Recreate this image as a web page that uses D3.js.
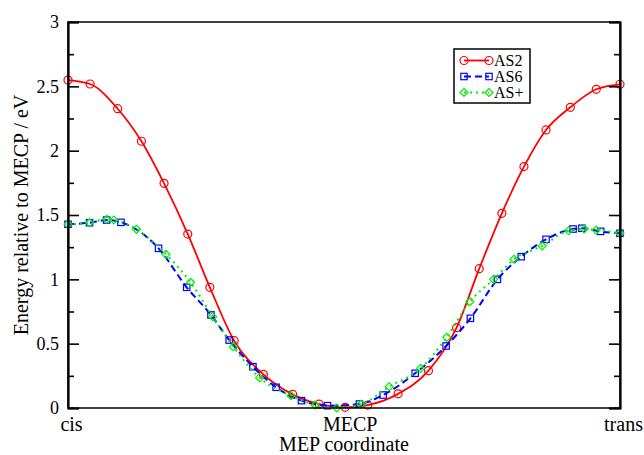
<!DOCTYPE html>
<html>
<head>
<meta charset="utf-8">
<script src="https://cdn.jsdelivr.net/npm/d3@7"></script>
<style>
  body { margin: 0; background: #fff; }
  svg { display: block; font-family: "Liberation Serif", "DejaVu Serif", serif; }
</style>
</head>
<body>
<script>

// MEP coordinate, cis = 0, trans = 100
let as2X = [0, 4.0, 9.0, 13.3, 17.4, 21.7, 25.7, 30.1, 35.4, 40.7, 45.5, 50.2, 54.3, 59.8, 65.3, 70.4, 74.5, 78.6, 82.6, 86.6, 91.0, 95.7, 100]
let as2Y = [2.549, 2.518, 2.326, 2.073, 1.746, 1.352, 0.938, 0.523, 0.262, 0.106, 0.03, 0.005, 0.023, 0.11, 0.29, 0.624, 1.083, 1.513, 1.876, 2.161, 2.337, 2.477, 2.516]

let as6X = [0, 3.9, 7.0, 9.6, 16.4, 21.5, 25.9, 29.2, 33.5, 37.7, 42.3, 47.0, 52.8, 57.1, 62.9, 68.5, 72.9, 77.8, 82.1, 86.6, 91.5, 93.1, 96.5, 100]
let as6Y = [1.428, 1.44, 1.461, 1.443, 1.241, 0.938, 0.723, 0.528, 0.321, 0.161, 0.057, 0.018, 0.031, 0.101, 0.27, 0.482, 0.697, 1.0, 1.176, 1.311, 1.391, 1.397, 1.373, 1.358]

let asPlusX = [0, 3.9, 7.0, 8.3, 12.4, 17.75, 22.2, 26.2, 29.95, 34.7, 40.4, 44.75, 48.7, 53.1, 58.2, 63.9, 68.6, 72.8, 77.1, 80.8, 85.9, 90.7, 93.5, 95.7, 100]
let asPlusY = [1.428, 1.44, 1.467, 1.461, 1.389, 1.194, 0.977, 0.71, 0.477, 0.236, 0.096, 0.023, 0.0, 0.029, 0.166, 0.308, 0.549, 0.826, 1.0, 1.156, 1.259, 1.378, 1.391, 1.383, 1.358]

let xTickValues = [0, 50.5, 100]
let xTickLabels = ['cis', 'MECP', 'trans']
let yMajorTicks = [0, 0.5, 1, 1.5, 2, 2.5, 3]
let yMinorTicks = [0.25, 0.75, 1.25, 1.75, 2.25, 2.75]

let seriesNames = ['AS2', 'AS6', 'AS+']

let width = 644
let height = 455
let plotLeft = 68
let plotRight = 620
let plotTop = 22
let plotBottom = 408

let svg = d3.select('body')
            .append('svg')
            .attr('width', width)
            .attr('height', height)

let xScale = d3.scaleLinear()
               .domain([0, 100])
               .range([plotLeft, plotRight])

let yScale = d3.scaleLinear()
               .domain([0, 3])
               .range([plotBottom, plotTop])

let series = [
    {name: seriesNames[0], xs: as2X, ys: as2Y, color: '#ff0000', dash: null, symbol: 'circle'},
    {name: seriesNames[1], xs: as6X, ys: as6Y, color: '#0000ff', dash: '7,4', symbol: 'square'},
    {name: seriesNames[2], xs: asPlusX, ys: asPlusY, color: '#00ee00', dash: '2,4', symbol: 'diamond'}
]

let drawSymbol = (g, kind, color, x, y) => {
    if (kind === 'circle') {
        g.append('circle')
         .attr('cx', x).attr('cy', y).attr('r', 4)
         .attr('fill', 'none').attr('stroke', color).attr('stroke-width', 1.2)
    } else if (kind === 'square') {
        g.append('rect')
         .attr('x', x - 3.2).attr('y', y - 3.2).attr('width', 6.4).attr('height', 6.4)
         .attr('fill', 'none').attr('stroke', color).attr('stroke-width', 1.2)
    } else {
        g.append('path')
         .attr('d', `M${x},${y - 4}L${x + 4},${y}L${x},${y + 4}L${x - 4},${y}Z`)
         .attr('fill', 'none').attr('stroke', color).attr('stroke-width', 1.2)
    }
}

let drawSeries = () => {
    series.forEach((s) => {
        let pts = s.xs.map((x, i) => [x, s.ys[i]])
        let line = d3.line()
                     .x((d) => xScale(d[0]))
                     .y((d) => yScale(d[1]))
                     .curve(d3.curveMonotoneX)
        svg.append('path')
           .attr('d', line(pts))
           .attr('fill', 'none')
           .attr('stroke', s.color)
           .attr('stroke-width', s.symbol === 'circle' ? 1.8 : 2)
           .attr('stroke-dasharray', s.dash)
        let g = svg.append('g')
        pts.forEach((d) => {
            drawSymbol(g, s.symbol, s.color, xScale(d[0]), yScale(d[1]))
        })
    })
}

let drawAxes = () => {
    // frame
    svg.append('rect')
       .attr('x', plotLeft).attr('y', plotTop)
       .attr('width', plotRight - plotLeft).attr('height', plotBottom - plotTop)
       .attr('fill', 'none').attr('stroke', '#000').attr('stroke-width', 1.5)

    let yAxisLeft = d3.axisLeft(yScale)
                      .tickValues(yMajorTicks)
                      .tickSize(-11)
                      .tickPadding(9)
                      .tickFormat(d3.format('~g'))
    let gl = svg.append('g')
                .attr('transform', 'translate(' + plotLeft + ',0)')
                .call(yAxisLeft)
    gl.select('.domain').attr('stroke-width', 2.2)
    gl.selectAll('.tick line').attr('stroke-width', 1.6)
    gl.selectAll('.tick text')
      .attr('font-size', 18)
      .attr('font-family', '"Liberation Serif", serif')
      .attr('fill', '#000')

    let yMinorLeft = d3.axisLeft(yScale).tickValues(yMinorTicks).tickSize(-6).tickFormat('')
    let gm = svg.append('g').attr('transform', 'translate(' + plotLeft + ',0)').call(yMinorLeft)
    gm.select('.domain').remove()
    gm.selectAll('.tick line').attr('stroke-width', 1.6)

    let yAxisRight = d3.axisRight(yScale).tickValues(yMajorTicks).tickSize(-11).tickFormat('')
    let gr = svg.append('g').attr('transform', 'translate(' + plotRight + ',0)').call(yAxisRight)
    gr.select('.domain').attr('stroke-width', 2.2)
    gr.selectAll('.tick line').attr('stroke-width', 1.6)

    let yMinorRight = d3.axisRight(yScale).tickValues(yMinorTicks).tickSize(-6).tickFormat('')
    let gmr = svg.append('g').attr('transform', 'translate(' + plotRight + ',0)').call(yMinorRight)
    gmr.select('.domain').remove()
    gmr.selectAll('.tick line').attr('stroke-width', 1.6)

    let xAxis = d3.axisBottom(xScale)
                  .tickValues(xTickValues)
                  .tickSize(0)
                  .tickPadding(9)
                  .tickFormat((d, i) => xTickLabels[i])
    let gx = svg.append('g')
                .attr('transform', 'translate(0,' + plotBottom + ')')
                .call(xAxis)
    gx.select('.domain').remove()
    gx.selectAll('.tick text')
      .attr('font-size', 20)
      .attr('font-family', '"Liberation Serif", serif')
      .attr('fill', '#000')
      .attr('dx', 3)

    svg.append('text')
       .attr('x', (plotLeft + plotRight) / 2)
       .attr('y', 451)
       .attr('text-anchor', 'middle')
       .attr('font-size', 20)
       .text('MEP coordinate')

    svg.append('text')
       .attr('transform', 'translate(28,' + ((plotTop + plotBottom) / 2) + ') rotate(-90)')
       .attr('text-anchor', 'middle')
       .attr('font-size', 20)
       .text('Energy relative to MECP / eV')
}

let drawLegend = () => {
    let lg = svg.append('g')
    lg.append('rect')
      .attr('x', 454).attr('y', 49)
      .attr('width', 76).attr('height', 54)
      .attr('fill', '#fff').attr('stroke', '#000').attr('stroke-width', 1.5)
    let rowY = [60.5, 76.5, 92.5]
    series.forEach((s, i) => {
        lg.append('line')
          .attr('x1', 464).attr('x2', 489)
          .attr('y1', rowY[i]).attr('y2', rowY[i])
          .attr('stroke', s.color).attr('stroke-width', 1.8)
          .attr('stroke-dasharray', s.dash)
        drawSymbol(lg, s.symbol, s.color, 464, rowY[i])
        drawSymbol(lg, s.symbol, s.color, 489, rowY[i])
        lg.append('text')
          .attr('x', 494).attr('y', rowY[i] + 5.5)
          .attr('font-size', 16)
          .text(s.name)
    })
}

drawSeries()
drawAxes()
drawLegend()

</script>
</body>
</html>
